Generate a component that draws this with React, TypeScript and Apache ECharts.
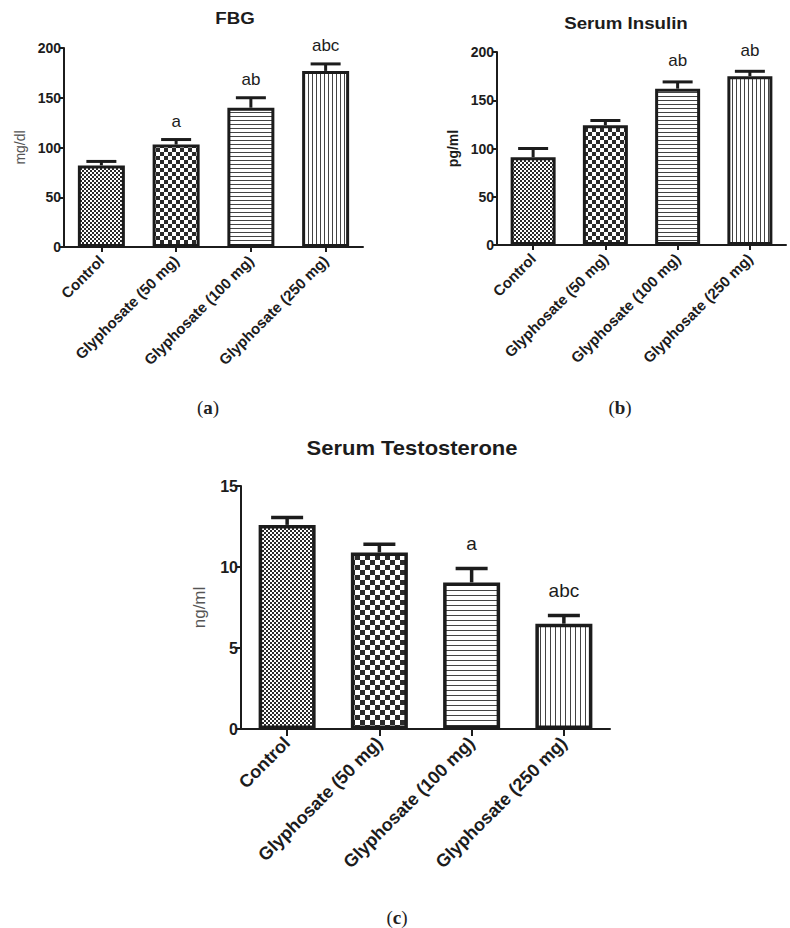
import React, { useEffect, useRef } from 'react';
import * as echarts from 'echarts';

const categories = ['Control', 'Glyphosate (50 mg)', 'Glyphosate (100 mg)', 'Glyphosate (250 mg)'];

const fbgMean = [82, 103, 140, 177];
const fbgSem = [4, 5, 10, 7];
const fbgSig = ['', 'a', 'ab', 'abc'];

const insulinMean = [91, 124, 162, 175];
const insulinSem = [9, 5, 7, 5];
const insulinSig = ['', '', 'ab', 'ab'];

const testoMean = [12.6, 10.9, 9.05, 6.5];
const testoSem = [0.45, 0.5, 0.85, 0.5];
const testoSig = ['', '', 'a', 'abc'];

const fbgAxis = { min: 0, max: 200, interval: 50 };
const insulinAxis = { min: 0, max: 200, interval: 50 };
const testoAxis = { min: 0, max: 15, interval: 5 };

const SANS = '"Liberation Sans", Arial, sans-serif';
const SERIF = '"Liberation Serif", "DejaVu Serif", serif';
const INK = '#1c1c1c';

function makePattern(kind: string, s: number) {
  const c = document.createElement('canvas');
  let w = 4, h = 4;
  if (kind === 'fine') { w = 4; h = 4; }
  else if (kind === 'check') { w = 2 * s; h = 2 * s; }
  else if (kind === 'hline') { w = 4; h = s; }
  else { w = s; h = 4; }
  c.width = w; c.height = h;
  const g = c.getContext('2d')!;
  g.fillStyle = '#ffffff';
  g.fillRect(0, 0, w, h);
  g.fillStyle = '#2a2a2a';
  if (kind === 'fine') {
    g.fillRect(0, 0, 2, 2);
    g.fillRect(2, 2, 2, 2);
  } else if (kind === 'check') {
    g.fillRect(0, 0, s, s);
    g.fillRect(s, s, s, s);
  } else if (kind === 'hline') {
    g.fillStyle = '#444444';
    g.fillRect(0, 0, w, 1);
  } else {
    g.fillStyle = '#444444';
    g.fillRect(0, 0, 1, h);
  }
  return { image: c, repeat: 'repeat', imageWidth: w, imageHeight: h } as any;
}

function patternsFor(check: number, line: number) {
  return [makePattern('fine', 2), makePattern('check', check), makePattern('hline', line), makePattern('vline', line)];
}

export default function App() {
  const ref = useRef<HTMLDivElement>(null);

  useEffect(() => {
    if (!ref.current) return;
    const chart = echarts.init(ref.current, null, { renderer: 'svg' });

    const panels = [
      {
        mean: fbgMean, sem: fbgSem, sig: fbgSig, axis: fbgAxis,
        grid: { left: 64, top: 48, width: 299, height: 199 },
        name: 'mg/dl', nameStyle: { color: '#555', fontSize: 14, fontWeight: 'normal' as const }, nameGap: 37,
        barWidth: 47, border: 3, cap: 30, errW: 3, sigGap: 18, sigSize: 17,
        tickFont: 14, catFont: 15, pats: patternsFor(4, 4),
      },
      {
        mean: insulinMean, sem: insulinSem, sig: insulinSig, axis: insulinAxis,
        grid: { left: 497, top: 52, width: 289, height: 193 },
        name: 'pg/ml', nameStyle: { color: INK, fontSize: 14, fontWeight: 'bold' as const }, nameGap: 37,
        barWidth: 45, border: 3, cap: 30, errW: 3, sigGap: 21, sigSize: 17,
        tickFont: 14, catFont: 15, pats: patternsFor(4, 4),
      },
      {
        mean: testoMean, sem: testoSem, sig: testoSig, axis: testoAxis,
        grid: { left: 241, top: 486, width: 369, height: 243 },
        name: 'ng/ml', nameStyle: { color: '#555', fontSize: 17, fontWeight: 'normal' as const }, nameGap: 33,
        barWidth: 57, border: 3.5, cap: 32, errW: 3.5, sigGap: 25, sigSize: 19,
        tickFont: 16, catFont: 18, pats: patternsFor(5, 5),
      },
    ];

    const grids: any[] = [];
    const xAxes: any[] = [];
    const yAxes: any[] = [];
    const series: any[] = [];

    panels.forEach((p, k) => {
      grids.push({ ...p.grid, containLabel: false });
      xAxes.push({
        type: 'category',
        gridIndex: k,
        data: categories,
        boundaryGap: true,
        axisLine: { show: true, lineStyle: { color: INK, width: 2 } },
        axisTick: { show: true, alignWithLabel: true, length: k === 2 ? 7 : 5, lineStyle: { color: INK, width: 2 } },
        axisLabel: {
          rotate: 45, interval: 0, margin: 11,
          fontFamily: SANS, fontWeight: 'bold', fontSize: p.catFont, color: INK,
        },
        splitLine: { show: false },
      });
      yAxes.push({
        type: 'value',
        gridIndex: k,
        min: p.axis.min, max: p.axis.max, interval: p.axis.interval,
        name: p.name,
        nameLocation: 'middle',
        nameGap: p.nameGap,
        nameTextStyle: { fontFamily: SANS, ...p.nameStyle },
        axisLine: { show: true, lineStyle: { color: INK, width: 2 } },
        axisTick: { show: true, length: 5, lineStyle: { color: INK, width: 2 } },
        axisLabel: { fontFamily: SANS, fontWeight: 'bold', fontSize: p.tickFont, color: INK, margin: 3 },
        splitLine: { show: false },
      });
      series.push({
        type: 'bar',
        xAxisIndex: k,
        yAxisIndex: k,
        barWidth: p.barWidth,
        data: p.mean.map((v, i) => ({
          value: v,
          itemStyle: { color: p.pats[i], borderColor: INK, borderWidth: p.border },
        })),
        z: 2,
      });
      const sig = p.sig;
      series.push({
        type: 'custom',
        xAxisIndex: k,
        yAxisIndex: k,
        data: p.mean.map((v, i) => [i, v, p.sem[i]]),
        z: 3,
        clip: false,
        renderItem: (params: any, api: any) => {
          const i = api.value(0);
          const m = api.value(1);
          const e = api.value(2);
          const b = api.coord([i, m]);
          const t = api.coord([i, m + e]);
          const children: any[] = [
            { type: 'line', shape: { x1: b[0], y1: b[1], x2: t[0], y2: t[1] }, style: { stroke: INK, lineWidth: p.errW } },
            { type: 'line', shape: { x1: t[0] - p.cap / 2, y1: t[1], x2: t[0] + p.cap / 2, y2: t[1] }, style: { stroke: INK, lineWidth: p.errW } },
          ];
          const letter = sig[params.dataIndex];
          if (letter) {
            children.push({
              type: 'text',
              x: t[0],
              y: t[1] - p.sigGap,
              style: { text: letter, fill: INK, font: `${p.sigSize}px ${SANS}`, textAlign: 'center', textVerticalAlign: 'middle' },
            });
          }
          return { type: 'group', children };
        },
      });
    });

    const titleText = (text: string, x: number, y: number, size: number) => ({
      type: 'text', x, y, scaleX: 1.1,
      style: { text, fill: INK, font: `bold ${size}px ${SANS}`, textAlign: 'center', textVerticalAlign: 'middle' },
    });
    const caption = (letter: string, x: number, y: number) => ({
      type: 'text', x, y,
      style: {
        text: `{p|(}{b|${letter}}{p|)}`,
        textAlign: 'center', textVerticalAlign: 'middle',
        rich: {
          p: { fontFamily: SERIF, fontSize: 19, fill: '#222', fontWeight: 'normal' },
          b: { fontFamily: SERIF, fontSize: 19, fill: '#222', fontWeight: 'bold' },
        },
      },
    });

    chart.setOption({
      animation: false,
      backgroundColor: '#ffffff',
      grid: grids,
      xAxis: xAxes,
      yAxis: yAxes,
      series,
      graphic: [
        titleText('FBG', 235, 18, 17),
        titleText('Serum Insulin', 626, 23, 17),
        titleText('Serum Testosterone', 412, 448, 20),
        caption('a', 208, 407),
        caption('b', 620, 407),
        caption('c', 397, 917),
      ],
    });

    return () => chart.dispose();
  }, []);

  return (
    <div
      ref={ref}
      style={{ position: 'absolute', left: 0, top: 0, width: 790, height: 928, background: '#fff' }}
    />
  );
}
